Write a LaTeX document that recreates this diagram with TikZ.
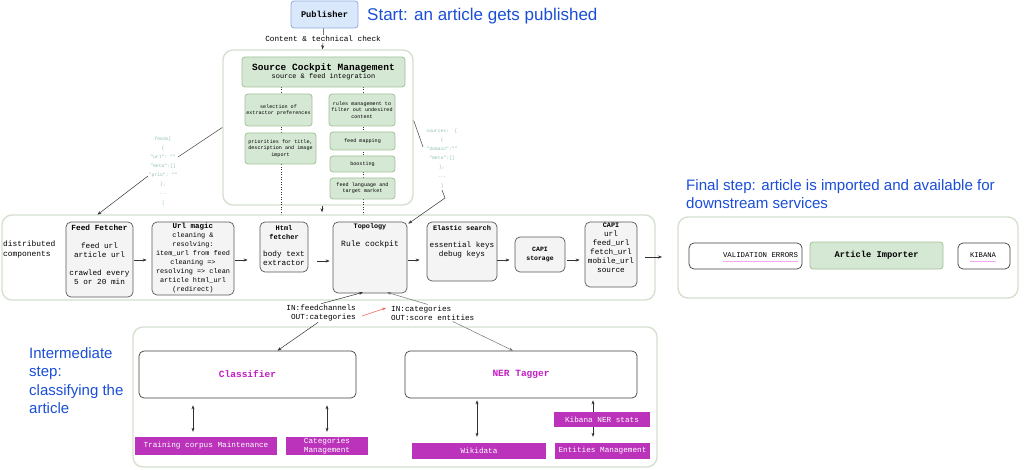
\documentclass[tikz,border=0pt]{standalone}
\usepackage{fontspec}
\setmainfont{Liberation Sans}
\setmonofont{Liberation Mono}
\usetikzlibrary{arrows.meta,calc}
\newcommand{\myfs}[2]{\fontsize{#1}{#2}\selectfont}
\definecolor{contc}{HTML}{D5E0D0}
\definecolor{boxg}{HTML}{F4F4F4}
\definecolor{grnf}{HTML}{D5E8D4}
\definecolor{grnd}{HTML}{A3C196}
\definecolor{pubf}{HTML}{DAE8FC}
\definecolor{pubd}{HTML}{8FAADC}
\definecolor{magf}{HTML}{BB33BB}
\definecolor{magt}{HTML}{C21EC2}
\definecolor{bluet}{HTML}{1A4ED6}
\definecolor{jsonc}{HTML}{8EBFAE}
\definecolor{pinkc}{HTML}{F0A8F0}
\definecolor{redc}{HTML}{F0605A}
\tikzset{
  cont/.style={draw=contc, line width=1.4pt, rounded corners=10pt, fill=white, inner sep=0pt},
  gbox/.style={draw=black!65, fill=boxg, rounded corners=5pt, line width=0.7pt, inner sep=0pt},
  grn/.style={draw=grnd, fill=grnf, rounded corners=3pt, line width=0.8pt, align=center, inner sep=0pt, font=\ttfamily\myfs{5.1}{6.2}},
  mag/.style={fill=magf, text=white, font=\ttfamily\myfs{7.7}{9}, inner sep=0pt, align=center},
  wbox/.style={draw=black!75, fill=white, rounded corners=5pt, line width=0.7pt, inner sep=0pt},
  arr/.style={-{Stealth[length=4pt,width=3pt]}, draw=black!80, line width=0.5pt},
  darr/.style={{Stealth[length=4pt,width=3pt]}-{Stealth[length=4pt,width=3pt]}, draw=black!80, line width=0.5pt},
  mono/.style={font=\ttfamily\myfs{7.7}{9}, inner sep=0pt, align=center},
  bluetxt/.style={text=bluet, font=\myfs{17}{19}, inner sep=0pt, align=left},
  json/.style={text=jsonc, font=\ttfamily\myfs{4.7}{9.1}, inner sep=0pt, align=center},
  dots/.style={draw=black!80, line width=0.5pt, dotted}
}
\begin{document}
\begin{tikzpicture}[x=1pt,y=-1pt]
\useasboundingbox (0,0) rectangle (1024,470);

% ---------- top: publisher and source cockpit ----------
\node[draw=pubd, fill=pubf, rounded corners=3pt, line width=0.8pt, minimum width=67pt, minimum height=27pt, inner sep=0pt, font=\ttfamily\bfseries\myfs{8.7}{10}] (pub) at (324.5,14.5) {Publisher};
\node[bluetxt, anchor=west] (start) at (367,16) {Start: an article gets published};

\node[cont, minimum width=190pt, minimum height=155pt] (scmc) at (318,127.5) {};

\draw[dots] (281,87) -- (281,222);
\draw[dots] (363,87) -- (363,222);

\node[grn, minimum width=163pt, minimum height=30pt] (scm) at (323.5,72) {{\bfseries\myfs{9.5}{10}Source Cockpit Management}\\[0pt]{\myfs{6.9}{10}source \& feed integration}};
\node[grn, minimum width=67pt, minimum height=32pt] (sel) at (278.5,110) {selection of\\extractor preferences};
\node[grn, minimum width=71pt, minimum height=31pt] (prio) at (280.5,148.5) {priorities for title,\\description and image\\import};
\node[grn, minimum width=66pt, minimum height=32pt] (rules) at (362,110) {rules management to\\filter out undesired\\content};
\node[grn, minimum width=65pt, minimum height=18pt] (fmap) at (362.5,141) {feed mapping};
\node[grn, minimum width=65pt, minimum height=16pt] (boost) at (362.5,164) {boosting};
\node[grn, minimum width=65pt, minimum height=21pt] (flang) at (362.5,188.5) {feed language and\\target market};

\draw[arr] (pub) -- node[fill=white, inner sep=1pt, font=\ttfamily\myfs{7.7}{9}] (ctc) {Content \& technical check} (scmc);

% json snippets
\node[json] (jl) at (163,171) {feeds[\\\{\\"url": ""\\"meta":[]\\"prio": ""\\\},\\...\\]};
\coordinate (jlu) at (178,157);
\coordinate (jlp) at (148,176);
\node[json] (jr) at (442,158.5) {sources:~~[\\\{\\"domain":""\\"meta":[]\\\},\\...\\]};
\coordinate (jrd) at (423,147);
\coordinate (jrb) at (442,190);
\coordinate (jrk) at (445,198);

% ---------- main pipeline ----------
\node[cont, minimum width=653pt, minimum height=85pt] (mc) at (328.5,257.5) {};
\node[mono, anchor=west, align=left, font=\ttfamily\myfs{7.9}{10}] (dist) at (3,249) {distributed\\components};

\node[gbox, minimum width=67pt, minimum height=75pt] (ff) at (99.5,259.5) {};
\node[mono, anchor=north] (fft) at ([yshift=-3pt]ff.north) {{\bfseries\myfs{7.8}{9}Feed Fetcher}\\[9pt]feed url\\article url\\[9pt]crawled every\\5 or 20 min};

\node[gbox, minimum width=82pt, minimum height=73pt] (um) at (193,258.5) {};
\node[mono, anchor=north, font=\ttfamily\myfs{6.85}{9}] (umt) at ([yshift=-1pt]um.north) {{\bfseries\myfs{7.5}{9}Url magic}\\cleaning \&\\resolving:\\item\_url from feed\\cleaning =>\\resolving => clean\\article html\_url\\(redirect)};

\node[gbox, minimum width=48pt, minimum height=50pt] (hf) at (284,247) {};
\node[mono, anchor=north] (hft) at ([yshift=-4pt]hf.north) {{\bfseries\myfs{7}{9}Html}\\{\bfseries\myfs{7}{9}fetcher}\\[8pt]body text\\extractor};

\node[gbox, minimum width=74pt, minimum height=71pt] (topo) at (370,257.5) {};
\node[mono, anchor=north] (topot) at ([yshift=-1.5pt]topo.north) {{\bfseries\myfs{6.8}{9}Topology}\\[9pt]{\myfs{8}{9}Rule cockpit}};

\node[gbox, minimum width=70pt, minimum height=59pt] (es) at (462,251.5) {};
\node[mono, anchor=north] (est) at ([yshift=-4pt]es.north) {{\bfseries\myfs{6.9}{9}Elastic search}\\[8pt]essential keys\\debug keys};

\node[gbox, minimum width=50pt, minimum height=35pt, font=\ttfamily\bfseries\myfs{6.5}{9}, align=center] (cs) at (540,254.5) {CAPI\\storage};

\node[gbox, minimum width=52pt, minimum height=65pt] (capi) at (611,254.5) {};
\node[mono, anchor=north] (capit) at ([yshift=-1.5pt]capi.north) {{\bfseries\myfs{6.8}{9}CAPI}\\url\\feed\_url\\fetch\_url\\mobile\_url\\source};
\coordinate (outend) at (662,257);

\draw[arr] ([xshift=1pt]ff.east |- 0,260) -- ([xshift=-5pt]um.west |- 0,260);
\draw[arr] ([xshift=1pt]um.east |- 0,260) -- ([xshift=-12pt]hf.west |- 0,260);
\draw[arr] ([xshift=9pt]hf.east |- 0,261) -- ([xshift=-3pt]topo.west |- 0,261);
\draw[arr] ([xshift=1pt]topo.east |- 0,260) -- ([xshift=-7pt]es.west |- 0,260);
\draw[arr] (es.east |- 0,260) -- ([xshift=-5pt]cs.west |- 0,260);
\draw[arr] ([xshift=2pt]cs.east |- 0,260) -- ([xshift=-5pt]capi.west |- 0,260);
\draw[arr] ([xshift=8pt]capi.east |- 0,257) -- (outend);

% connectors from cockpit
\draw[arr] (scmc.south -| 322,0) -- ([yshift=2pt]mc.north -| 322,0);
\draw[black!75, line width=0.5pt] (scmc.west) -- (jlu);
\draw[arr] (jlp) -- ([xshift=-2pt,yshift=7pt]ff.north);
\draw[black!75, line width=0.5pt] ([yshift=7pt]scmc.east) -- (jrd);
\draw[arr] (jrb) -- (jrk) -- ([xshift=1pt,yshift=-2pt]topo.north east);

% ---------- final step ----------
\node[bluetxt, anchor=north west, font=\myfs{15.1}{18}] (final) at (686,179) {Final step: article is imported and available for\\downstream services};
\node[cont, minimum width=340pt, minimum height=81pt] (rc) at (848,257.5) {};
\node[wbox, minimum width=113pt, minimum height=26pt] (val) at (745.5,256) {};
\node[mono, font=\ttfamily\myfs{7.35}{9}] (valt) at (760.5,255) {VALIDATION ERRORS};
\draw[pinkc, line width=1pt] ([yshift=-4pt]valt.south west) -- ([yshift=-4pt]valt.south east);
\node[grn, minimum width=133pt, minimum height=27pt, font=\ttfamily\bfseries\myfs{8.75}{10}] (ai) at (876.5,255.5) {Article Importer};
\node[wbox, minimum width=52pt, minimum height=26pt] (kib) at (984,256) {};
\node[mono, font=\ttfamily\myfs{7.2}{9}] (kibt) at (983,255) {KIBANA};
\draw[pinkc, line width=1pt] ([yshift=-4pt]kibt.south west) -- ([yshift=-4pt]kibt.south east);

% ---------- topology IO labels ----------
\node[mono, anchor=east, align=right] (lblA) at (356,313) {IN:feedchannels\\OUT:categories};
\node[mono, anchor=west, align=left] (lblB) at (391,313) {IN:categories\\OUT:score entities};
\draw[arr] ([yshift=1pt]lblA.north) -- ([xshift=-7pt,yshift=1pt]topo.south);
\draw[-{Stealth[length=4pt,width=3pt]}, draw=black!55, line width=0.5pt] ([xshift=-5pt,yshift=1pt]lblB.north) -- ([xshift=17pt,yshift=1pt]topo.south);
\draw[-{Stealth[length=4pt,width=3pt]}, draw=redc, line width=0.5pt] ($(lblA.east)+(6,3)$) -- ($(lblB.west)+(-5,-5)$);

% ---------- intermediate step ----------
\node[bluetxt, anchor=north west, font=\myfs{15}{18.5}] (inter) at (29,347) {Intermediate\\step:\\classifying the\\article};
\node[cont, minimum width=524pt, minimum height=140pt] (bc) at (395,397) {};

\node[wbox, minimum width=217pt, minimum height=47pt, text=magt, font=\ttfamily\bfseries\myfs{9.5}{10}] (cls) at (247.5,374.5) {Classifier};
\node[wbox, minimum width=232pt, minimum height=47pt, text=magt, font=\ttfamily\bfseries\myfs{9.5}{10}] (ner) at (521,374.5) {NER Tagger};

\draw[arr] ([xshift=-3pt,yshift=-1pt]lblA.south) -- ([xshift=30pt]cls.north);
\draw[-{Stealth[length=4pt,width=3pt]}, draw=black!55, line width=0.5pt] ([xshift=20pt,yshift=-1pt]lblB.south) -- ([xshift=-8pt]ner.north);

\node[mag, minimum width=142pt, minimum height=18pt] (tcm) at (206,446) {Training corpus Maintenance};
\node[mag, minimum width=82pt, minimum height=18pt] (cm) at (327,446) {Categories\\Management};
\node[mag, minimum width=134pt, minimum height=16pt] (wiki) at (479,451) {Wikidata};
\node[mag, minimum width=95pt, minimum height=16pt] (em) at (602.5,451) {Entities Management};

\draw[darr, shorten <=7pt, shorten >=5pt] (cls.south -| 193,0) -- (tcm.north -| 193,0);
\draw[darr, shorten <=7pt, shorten >=5pt] (cls.south -| 327,0) -- (cm.north -| 327,0);
\draw[darr, shorten <=2pt, shorten >=6pt] (ner.south -| 477,0) -- (wiki.north -| 477,0);
\draw[darr, shorten <=2pt, shorten >=6pt] (ner.south -| 593,0) -- (em.north -| 593,0);

\node[mag, minimum width=96pt, minimum height=15pt] (kns) at (602,419.5) {Kibana NER stats};
\end{tikzpicture}
\end{document}
